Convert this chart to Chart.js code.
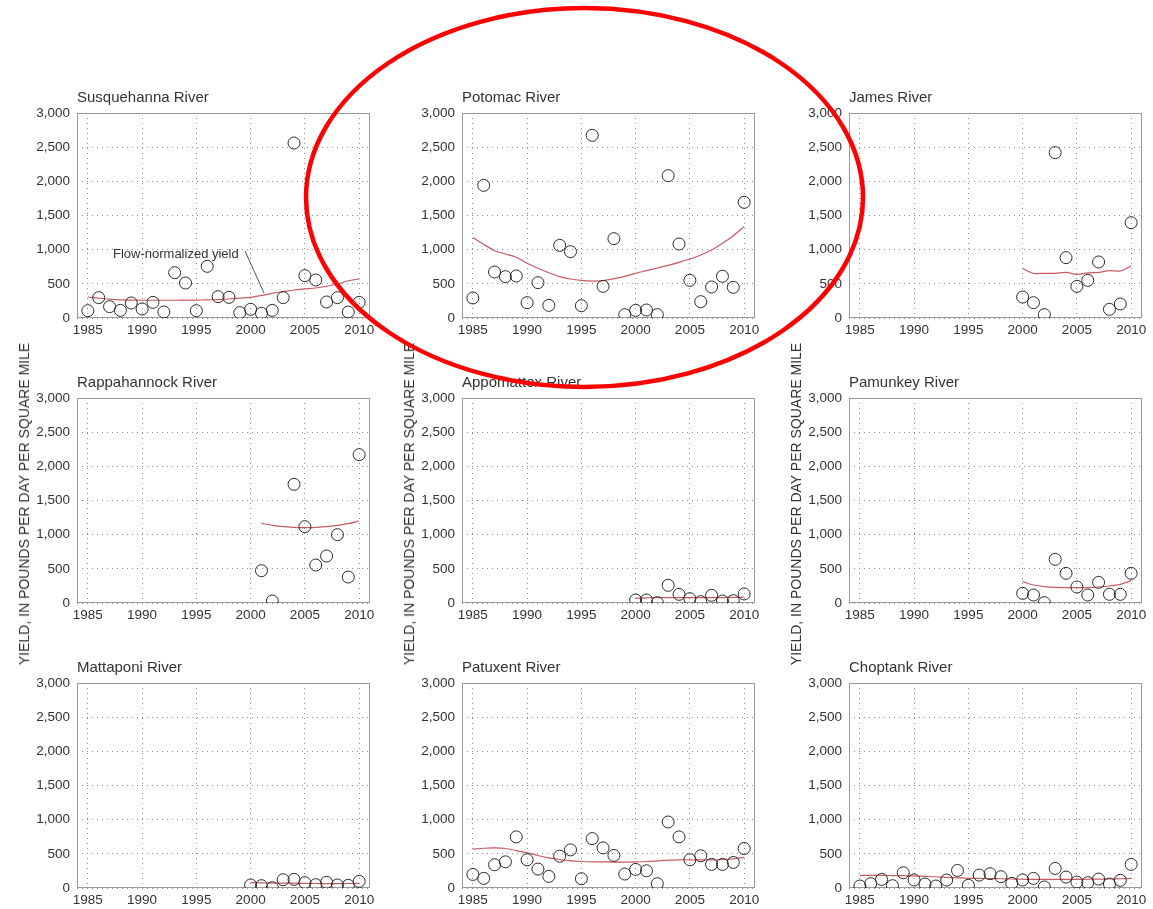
<!DOCTYPE html>
<html>
<head>
<meta charset="utf-8">
<script src="https://cdn.jsdelivr.net/npm/chart.js@4.4.0/dist/chart.umd.min.js"></script>
<style>
  body { margin: 0; background: #fff; font-family: "Liberation Sans", Arial, sans-serif; }
  #page { position: relative; width: 1153px; height: 909px; overflow: hidden; background: #fff; }
  .panel { position: absolute; }
  .ytitle { position: absolute; transform: translate(-50%, -50%) rotate(-90deg); white-space: nowrap; font-size: 14px; color: #333; }
  svg.overlay { position: absolute; left: 0; top: 0; pointer-events: none; }
</style>
</head>
<body>
<div id="page">
  <div class="ytitle" style="left:24px; top:504px;">YIELD, IN POUNDS PER DAY PER SQUARE MILE</div>
  <div class="ytitle" style="left:409px; top:504px;">YIELD, IN POUNDS PER DAY PER SQUARE MILE</div>
  <div class="ytitle" style="left:796px; top:504px;">YIELD, IN POUNDS PER DAY PER SQUARE MILE</div>
</div>
<script>
// tick labels
const yearTicks = [1985, 1990, 1995, 2000, 2005, 2010];
const yieldTicks = [0, 500, 1000, 1500, 2000, 2500, 3000];

// years with data
const yearsFull = [1985, 1986, 1987, 1988, 1989, 1990, 1991, 1992, 1993, 1994, 1995, 1996, 1997,
                   1998, 1999, 2000, 2001, 2002, 2003, 2004, 2005, 2006, 2007, 2008, 2009, 2010];
const yearsRecent = [2000, 2001, 2002, 2003, 2004, 2005, 2006, 2007, 2008, 2009, 2010];
const yearsRappahannock = [2001, 2002, 2003, 2004, 2005, 2006, 2007, 2008, 2009, 2010];

// annual yield (circles) and flow-normalized yield (line), pounds per day per square mile
const susquehannaYield = [107, 298, 166, 112, 220, 132, 229, 88, 663, 512, 107, 756, 312,
                          302, 78, 127, 68, 112, 298, 2561, 620, 556, 234, 298, 88, 229];
const susquehannaFlow = [307, 290, 275, 265, 262, 260, 260, 260, 260, 262, 263, 265, 270,
                         278, 290, 302, 330, 361, 385, 410, 425, 439, 465, 498, 545, 571];

const potomacYield = [293, 1941, 673, 605, 615, 224, 517, 185, 1063, 971, 180, 2673, 463,
                      1161, 49, 112, 117, 49, 2083, 1083, 551, 239, 454, 610, 449, 1693];
const potomacFlow = [1176, 1078, 985, 937, 888, 800, 727, 663, 605, 571, 551, 541, 546,
                     576, 610, 654, 693, 732, 771, 815, 863, 922, 995, 1093, 1205, 1337];

const jamesYield = [307, 224, 49, 2420, 883, 463, 551, 820, 127, 205, 1395];
const jamesFlow = [722, 654, 654, 654, 668, 639, 659, 668, 693, 688, 761];

const rappahannockYield = [473, 29, null, 1737, 1117, 556, 688, 1000, 380, 2171];
const rappahannockFlow = [1166, 1137, 1117, 1107, 1102, 1107, 1117, 1137, 1161, 1200];

const appomattoxYield = [44, 44, 5, 259, 127, 63, 20, 112, 29, 34, 132];
const appomattoxFlow = [70, 75, 78, 80, 80, 80, 78, 78, 80, 82, 85];

const pamunkeyYield = [141, 117, 5, 639, 434, 234, 117, 302, 127, 127, 434];
const pamunkeyFlow = [312, 263, 239, 229, 224, 224, 224, 234, 249, 273, 327];

const mattaponiYield = [44, 34, 5, 121, 126, 78, 49, 83, 44, 39, 97];
const mattaponiFlow = [80, 75, 72, 70, 70, 68, 66, 65, 65, 66, 68];

const patuxentYield = [199, 141, 340, 383, 748, 413, 277, 170, 466, 558, 136, 723, 587,
                       476, 204, 272, 252, 63, 966, 748, 413, 471, 345, 345, 374, 578];
const patuxentFlow = [568, 582, 587, 578, 548, 515, 476, 442, 417, 398, 388, 383, 383,
                      379, 379, 383, 388, 398, 408, 413, 413, 413, 413, 417, 427, 447];

const choptankYield = [29, 63, 126, 34, 223, 117, 58, 29, 117, 257, 39, 189, 209,
                       165, 68, 117, 141, 15, 286, 160, 87, 78, 131, 58, 112, 345];
const choptankFlow = [185, 185, 184, 182, 180, 175, 170, 165, 155, 148, 142, 140, 138,
                      135, 132, 128, 126, 125, 125, 126, 127, 128, 130, 132, 135, 140];

const panels = [
  { name: "Susquehanna River", col: 0, row: 0, years: yearsFull, pts: susquehannaYield, trend: susquehannaFlow },
  { name: "Potomac River", col: 1, row: 0, years: yearsFull, pts: potomacYield, trend: potomacFlow },
  { name: "James River", col: 2, row: 0, years: yearsRecent, pts: jamesYield, trend: jamesFlow },
  { name: "Rappahannock River", col: 0, row: 1, years: yearsRappahannock, pts: rappahannockYield, trend: rappahannockFlow },
  { name: "Appomattox River", col: 1, row: 1, years: yearsRecent, pts: appomattoxYield, trend: appomattoxFlow },
  { name: "Pamunkey River", col: 2, row: 1, years: yearsRecent, pts: pamunkeyYield, trend: pamunkeyFlow },
  { name: "Mattaponi River", col: 0, row: 2, years: yearsRecent, pts: mattaponiYield, trend: mattaponiFlow },
  { name: "Patuxent River", col: 1, row: 2, years: yearsFull, pts: patuxentYield, trend: patuxentFlow },
  { name: "Choptank River", col: 2, row: 2, years: yearsFull, pts: choptankYield, trend: choptankFlow },
];

// layout of the plot areas
const colLeft = [77, 462, 849];
const rowTop = [113, 398, 683];
const plotW = 293, plotH = 205;
const axisW = 70, topPad = 30, axisH = 30, rightPad = 12;

const FONT = '"Liberation Sans", Arial, sans-serif';

// title over the plot area, left aligned with it
const panelTitle = {
  id: "panelTitle",
  afterDraw(chart, args, opts) {
    const { ctx, chartArea } = chart;
    ctx.save();
    ctx.font = "15px " + FONT;
    ctx.fillStyle = "#333";
    ctx.textBaseline = "middle";
    ctx.fillText(opts.text, chartArea.left, chartArea.top - 15);
    ctx.restore();
  }
};

// grey box around the plot area
const plotFrame = {
  id: "plotFrame",
  beforeDatasetsDraw(chart) {
    const { ctx, chartArea: a } = chart;
    ctx.save();
    ctx.strokeStyle = "#9a9a9a";
    ctx.lineWidth = 1;
    ctx.strokeRect(Math.round(a.left) + 0.5, Math.round(a.top) + 0.5,
                   Math.round(a.right - a.left) - 1, Math.round(a.bottom - a.top) - 1);
    ctx.restore();
  }
};

const page = document.getElementById("page");

panels.forEach(function (p) {
  const div = document.createElement("div");
  div.className = "panel";
  div.style.left = (colLeft[p.col] - axisW) + "px";
  div.style.top = (rowTop[p.row] - topPad) + "px";
  div.style.width = (axisW + plotW + rightPad) + "px";
  div.style.height = (topPad + plotH + axisH) + "px";
  const canvas = document.createElement("canvas");
  div.appendChild(canvas);
  page.insertBefore(div, page.firstChild);

  const pointData = p.years.map((yr, i) => ({ x: yr, y: p.pts[i] }));
  const lineData = p.years.map((yr, i) => ({ x: yr, y: p.trend[i] }));

  new Chart(canvas, {
    type: "scatter",
    data: {
      datasets: [
        {
          label: "Yield",
          data: pointData,
          pointStyle: "circle",
          pointRadius: 6,
          backgroundColor: "rgba(0,0,0,0)",
          borderColor: "#2b2b2b",
          borderWidth: 1,
        },
        {
          label: "Flow-normalized yield",
          data: lineData,
          showLine: true,
          pointRadius: 0,
          borderColor: "#c85a64",
          borderWidth: 1.2,
          tension: 0.3,
        },
      ],
    },
    options: {
      responsive: true,
      maintainAspectRatio: false,
      animation: false,
      events: [],
      layout: { padding: { top: topPad, right: rightPad, left: 0, bottom: 0 } },
      plugins: {
        legend: { display: false },
        tooltip: { enabled: false },
        panelTitle: { text: p.name },
      },
      scales: {
        x: {
          type: "linear",
          min: 1984,
          max: 2011,
          afterBuildTicks: s => { s.ticks = yearTicks.map(v => ({ value: v })); },
          afterFit: s => { s.height = axisH; },
          grid: { color: "#8c8c8c", lineWidth: 1, drawTicks: false },
          border: { display: false, dash: [1, 4] },
          ticks: {
            padding: 4,
            maxRotation: 0,
            color: "#333",
            font: { family: FONT, size: 13.5 },
            callback: v => String(v),
          },
        },
        y: {
          min: 0,
          max: 3000,
          afterBuildTicks: s => { s.ticks = yieldTicks.map(v => ({ value: v })); },
          afterFit: s => { s.width = axisW; },
          grid: { color: "#8c8c8c", lineWidth: 1, drawTicks: false },
          border: { display: false, dash: [1, 4] },
          ticks: {
            padding: 7,
            color: "#333",
            font: { family: FONT, size: 13.5 },
            callback: v => v.toLocaleString("en-US"),
          },
        },
      },
    },
    plugins: [panelTitle, plotFrame],
  });
});

// annotations drawn over the figure
const svgNS = "http://www.w3.org/2000/svg";
const svg = document.createElementNS(svgNS, "svg");
svg.setAttribute("class", "overlay");
svg.setAttribute("width", "1153");
svg.setAttribute("height", "909");
svg.innerHTML =
  '<text x="113" y="257.5" font-family=\'"Liberation Sans", Arial, sans-serif\' font-size="13" fill="#333">Flow-normalized yield</text>' +
  '<line x1="245" y1="251" x2="264" y2="293" stroke="#555" stroke-width="1"/>' +
  '<ellipse cx="584.5" cy="197.5" rx="278.5" ry="189.5" fill="none" stroke="#ff0000" stroke-width="4.5"/>';
page.appendChild(svg);
</script>
</body>
</html>
